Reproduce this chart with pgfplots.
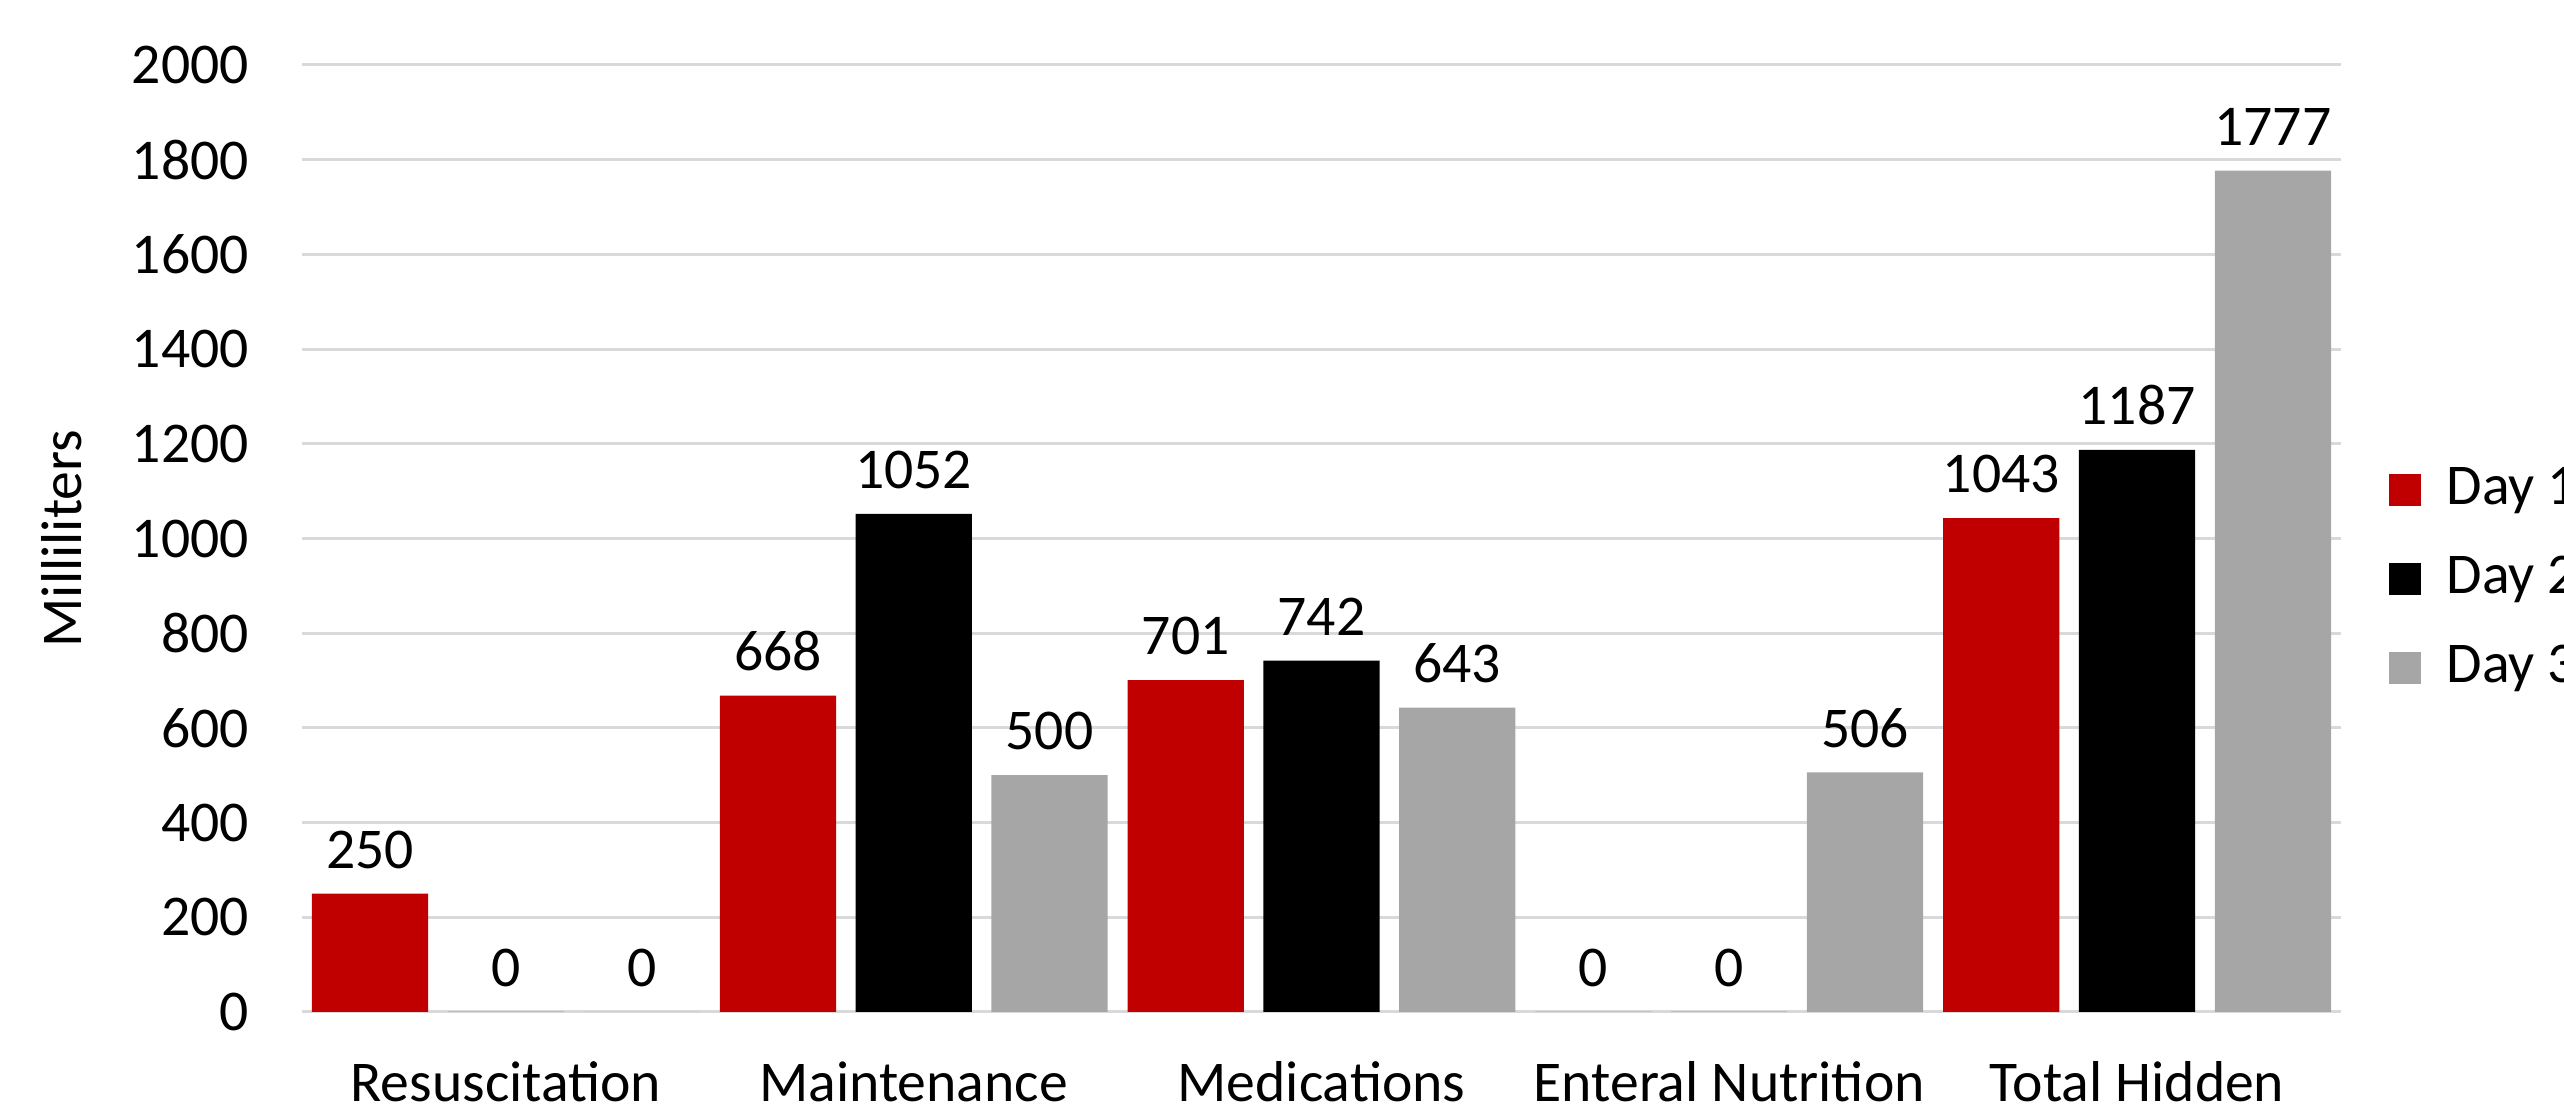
\documentclass[border=0pt]{standalone}
\usepackage{fontspec}
\setmainfont{Carlito}
\usepackage{pgfplots}
\pgfplotsset{compat=1.18}
\definecolor{dred}{HTML}{C00000}
\definecolor{dgray}{HTML}{A6A6A6}
\definecolor{gridc}{HTML}{D9D9D9}
\begin{document}
\fontsize{17.3pt}{21pt}\selectfont
\begin{tikzpicture}
\useasboundingbox (-90.6pt,-30.6pt) rectangle (678.6pt,303.6pt);
\clip (-90.6pt,-30.6pt) rectangle (678.6pt,303.6pt);
\begin{axis}[
  at={(0,0)}, anchor=south west,
  scale only axis, width=611.7pt, height=284.1pt,
  xmin=-0.5, xmax=4.5, ymin=0, ymax=2000,
  ybar=5.87pt, bar width=34.87pt,
  ytick={0,200,...,2000},
  xtick={0,1,2,3,4},
  xticklabels={Resuscitation,Maintenance,Medications,Enteral Nutrition,Total Hidden},
  major tick length=0pt,
  axis line style={draw=none},
  ymajorgrids, grid style={draw=gridc, line width=0.9pt},
  scaled y ticks=false,
  /pgf/number format/assume math mode=true,
  /pgf/number format/1000 sep={},
  tick label style={font=\fontsize{17.3pt}{21pt}\selectfont},
  yticklabel style={xshift=-10pt},
  xticklabel style={yshift=-9pt},
  ylabel={Milliliters},
  ylabel style={at={(axis description cs:-0.1177,0.5)}, anchor=center, font=\fontsize{17.3pt}{21pt}\selectfont},
  nodes near coords,
  every node near coord/.append style={font=\fontsize{17.3pt}{21pt}\selectfont, yshift=1.5pt, text=black},
  legend style={draw=none, fill=none, at={(1.0232,0.457)}, anchor=west, font=\fontsize{17.3pt}{21pt}\selectfont, row sep=9pt, inner sep=0pt,
    /tikz/every odd column/.append style={column sep=5.7pt}},
  legend cell align=left,
  legend image code/.code={\fill[#1] (0pt,-4.8pt) rectangle (9.6pt,4.8pt);},
]
\addplot[fill=dred, draw=none]
  coordinates {(0,250) (1,668) (2,701) (3,0) (4,1043)};
\addplot[fill=black, draw=none]
  coordinates {(0,0) (1,1052) (2,742) (3,0) (4,1187)};
\addplot[fill=dgray, draw=none]
  coordinates {(0,0) (1,500) (2,643) (3,506) (4,1777)};
\legend{Day 1, Day 2, Day 3}
\end{axis}
\end{tikzpicture}
\end{document}
